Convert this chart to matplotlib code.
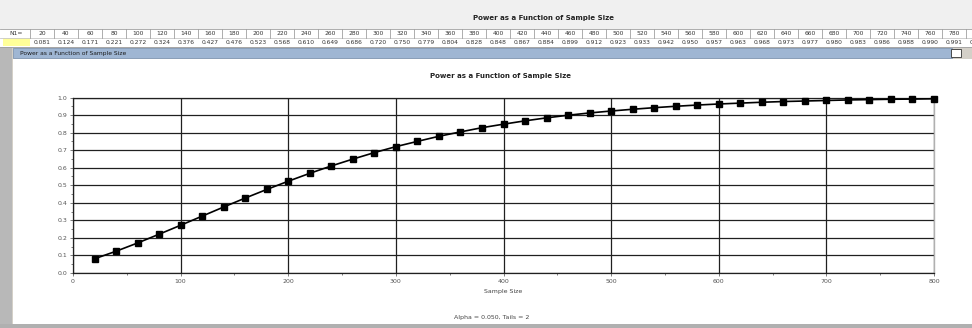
import numpy as np
import matplotlib.pyplot as plt
from matplotlib.patches import Rectangle

sample_size = [20, 40, 60, 80, 100, 120, 140, 160, 180, 200,
               220, 240, 260, 280, 300, 320, 340, 360, 380, 400,
               420, 440, 460, 480, 500, 520, 540, 560, 580, 600,
               620, 640, 660, 680, 700, 720, 740, 760, 780, 800]
power = [0.081, 0.124, 0.171, 0.221, 0.272, 0.324, 0.376, 0.427, 0.476, 0.523,
         0.568, 0.610, 0.649, 0.686, 0.720, 0.750, 0.779, 0.804, 0.828, 0.848,
         0.867, 0.884, 0.899, 0.912, 0.923, 0.933, 0.942, 0.950, 0.957, 0.963,
         0.968, 0.973, 0.977, 0.980, 0.983, 0.986, 0.988, 0.990, 0.991, 0.993]

title = "Power as a Function of Sample Size"
W, H = 972, 328


def fx(px):
    return px / W


def fy(py):
    return 1 - py / H


def box(x0, y0, x1, y1, fc, ec="none", lw=0.0):
    fig.add_artist(Rectangle((fx(x0), fy(y1)), fx(x1) - fx(x0), fy(y0) - fy(y1),
                             transform=fig.transFigure, facecolor=fc,
                             edgecolor=ec, linewidth=lw, zorder=0))


def hline(y, x0, x1, c, lw=0.6):
    fig.add_artist(plt.Line2D([fx(x0), fx(x1)], [fy(y), fy(y)],
                              transform=fig.transFigure, color=c, lw=lw))


def vline(x, y0, y1, c, lw=0.6):
    fig.add_artist(plt.Line2D([fx(x), fx(x)], [fy(y0), fy(y1)],
                              transform=fig.transFigure, color=c, lw=lw))


fig = plt.figure(figsize=(9.72, 3.28), dpi=100)
fig.patch.set_facecolor("#f0f0f0")

# top header title
fig.text(fx(543), fy(18), title, ha="center", va="center",
         fontsize=5, fontweight="bold", color="#222222")

# table strip
box(0, 29, W, 47, "white")
box(3, 38, 30, 46, "#ffff99")
hline(29, 0, W, "#a0a0a0")
hline(38, 0, W, "#c8c8c8")
hline(47, 0, W, "#a0a0a0")
fig.text(fx(16), fy(33.5), "N1=", ha="center", va="center", fontsize=4.3, color="#333333")
vline(30, 29, 38, "#a0a0a0")
for i, (n, p) in enumerate(zip(sample_size, power)):
    cx = 42 + 24 * i
    fig.text(fx(cx), fy(33.5), str(n), ha="center", va="center",
             fontsize=4.3, color="#333333")
    fig.text(fx(cx), fy(42.5), f"{p:.3f}", ha="center", va="center",
             fontsize=4.3, color="#333333")
    vline(cx + 12, 29, 38, "#a0a0a0")

# inner window frame
box(0, 47, W, H, "#d4d0c8")
box(0, 47, 12, H, "#b8b8b8")
box(0, 324, W, H, "#b0b0b0")
box(13, 48, 952, 58, "#9fb6d3", ec="#7890b0", lw=0.5)
fig.text(fx(20), fy(53), title, ha="left", va="center", fontsize=4.3, color="#1a1a1a")
box(951, 49, 961, 57, "white", ec="#333333", lw=0.6)
box(13, 59, W, 324, "white")

# chart
ax = fig.add_axes([fx(73), fy(273), fx(934) - fx(73), fy(97.5) - fy(273)])
ax.plot(sample_size, power, color="black", lw=1.2, marker="s", ms=4.2,
        mfc="black", mec="black", zorder=5, clip_on=False)
ax.set_xlim(0, 800)
ax.set_ylim(0, 1.0)
ax.set_xticks(np.arange(0, 801, 100))
ax.set_xticks(np.arange(50, 800, 100), minor=True)
ax.set_yticks(np.arange(0, 1.01, 0.1))
ax.set_yticks(np.arange(0.05, 1.0, 0.1), minor=True)
ax.set_yticklabels([f"{v:.1f}" for v in np.arange(0, 1.01, 0.1)])
ax.grid(True, which="major", color="#202020", lw=0.9)
ax.tick_params(axis="both", which="both", labelsize=4.5, labelcolor="#555555",
               color="#666666", length=2, width=0.6, pad=2)
ax.tick_params(axis="both", which="minor", length=1.5)
for side in ["top", "left", "bottom"]:
    ax.spines[side].set_color("#202020")
    ax.spines[side].set_linewidth(0.9)
ax.spines["right"].set_color("#b0b0b0")
ax.spines["right"].set_linewidth(1.0)
ax.set_axisbelow(True)
ax.set_xlabel("Sample Size", fontsize=4.5, color="#444444", labelpad=4)

fig.text(fx(500), fy(76), title, ha="center", va="center",
         fontsize=5, fontweight="bold", color="#222222")
fig.text(fx(492), fy(318), "Alpha = 0.050, Tails = 2", ha="center", va="center",
         fontsize=4.5, color="#444444")

plt.savefig("out.png", dpi=100, facecolor=fig.get_facecolor())
